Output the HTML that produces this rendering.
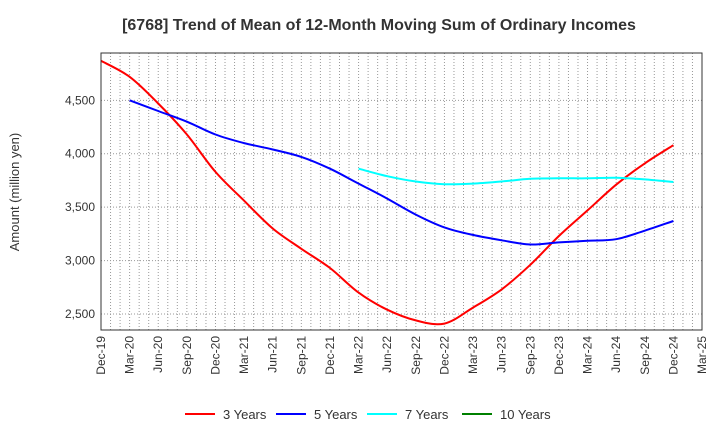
<!DOCTYPE html>
<html><head><meta charset="utf-8"><style>
body{margin:0;background:#fff;font-family:"Liberation Sans",sans-serif;}
</style></head><body>
<svg id="c" width="720" height="440" xmlns="http://www.w3.org/2000/svg">
<text x="379" y="30" text-anchor="middle" font-size="16" font-weight="bold" fill="#333">[6768]  Trend of Mean of 12-Month Moving Sum of Ordinary Incomes</text>
<text transform="translate(19,192) rotate(-90)" text-anchor="middle" font-size="13" fill="#333">Amount (million yen)</text>
<g id="grid"></g><g id="series"></g><g id="axes"></g><g id="legend"></g>
</svg>
<script>
const xLabels=["Dec-19","Mar-20","Jun-20","Sep-20","Dec-20","Mar-21","Jun-21","Sep-21","Dec-21","Mar-22","Jun-22","Sep-22","Dec-22","Mar-23","Jun-23","Sep-23","Dec-23","Mar-24","Jun-24","Sep-24","Dec-24","Mar-25"];
const yTicks=[2500,3000,3500,4000,4500];
const yTickLabels=["2,500","3,000","3,500","4,000","4,500"];
const s3=[4870,4720,4470,4180,3830,3560,3300,3110,2930,2700,2540,2440,2410,2560,2730,2960,3230,3470,3710,3910,4080];
const s3Start=0;
const s5=[4500,4400,4300,4180,4100,4040,3970,3860,3720,3580,3430,3310,3240,3190,3150,3170,3185,3200,3280,3370];
const s5Start=1;
const s7=[3860,3790,3740,3715,3720,3740,3765,3770,3770,3775,3760,3735];
const s7Start=9;
const s10=[];
const seriesNames=["3 Years","5 Years","7 Years","10 Years"];
const colors=["#ff0000","#0000ff","#00ffff","#008000"];
const L=101,R=702,T=53,B=330,yMin=2350,yMax=4943;
const NS="http://www.w3.org/2000/svg";
const xs=i=>L+(R-L)*i/21;
const ys=v=>B-(v-yMin)/(yMax-yMin)*(B-T);
function mk(t,a,p){const e=document.createElementNS(NS,t);for(const k in a)e.setAttribute(k,a[k]);p.appendChild(e);return e;}
const g=document.getElementById('grid');
for(let m=1;m<63;m++){const x=L+(R-L)*m/63;
const l=mk('line',{x1:x,x2:x,y1:T,y2:B,stroke:'#999','stroke-dasharray':'1,2','stroke-width':1},g);

}
yTicks.forEach((v,i)=>{const y=ys(v);
const l=mk('line',{x1:L,x2:R,y1:y,y2:y,stroke:'#999','stroke-dasharray':'1,2'},g);


const t=mk('text',{x:L-6,y:y+4,'text-anchor':'end','font-size':12,fill:'#333'},g);t.textContent=yTickLabels[i];

});
const ax=document.getElementById('axes');
const fr=mk('rect',{x:L,y:T,width:R-L,height:B-T,fill:'none',stroke:'#333'},ax);


xLabels.forEach((s,i)=>{const x=xs(i);
const t=mk('text',{transform:`translate(${x+4},${B+6}) rotate(-90)`,'text-anchor':'end','font-size':12,fill:'#333'},ax);t.textContent=s;

});
function smooth(P){let d='M'+P[0][0].toFixed(1)+','+P[0][1].toFixed(1);
for(let i=0;i<P.length-1;i++){const p0=P[i-1]||P[i],p1=P[i],p2=P[i+1],p3=P[i+2]||p2;
const c1=[p1[0]+(p2[0]-p0[0])/6,p1[1]+(p2[1]-p0[1])/6],c2=[p2[0]-(p3[0]-p1[0])/6,p2[1]-(p3[1]-p1[1])/6];
d+=` C${c1[0].toFixed(1)},${c1[1].toFixed(1)} ${c2[0].toFixed(1)},${c2[1].toFixed(1)} ${p2[0].toFixed(1)},${p2[1].toFixed(1)}`;}
return d;}
const sg=document.getElementById('series');
[[s3,s3Start],[s5,s5Start],[s7,s7Start],[s10,0]].forEach((d,k)=>{if(!d[0].length)return;
const P=d[0].map((v,i)=>[xs(i+d[1]),ys(v)]);
const p=mk('path',{d:smooth(P),fill:'none',stroke:colors[k],'stroke-width':2,'stroke-linejoin':'round'},sg);

});
const lg=document.getElementById('legend');
const lx=[185,276,367,462];
seriesNames.forEach((n,k)=>{
const e=mk('g',{},lg);


mk('line',{x1:lx[k],x2:lx[k]+30,y1:414,y2:414,stroke:colors[k],'stroke-width':2},e);
const t=mk('text',{x:lx[k]+38,y:419,'font-size':13,fill:'#333'},e);t.textContent=n;});
</script>
</body></html>
